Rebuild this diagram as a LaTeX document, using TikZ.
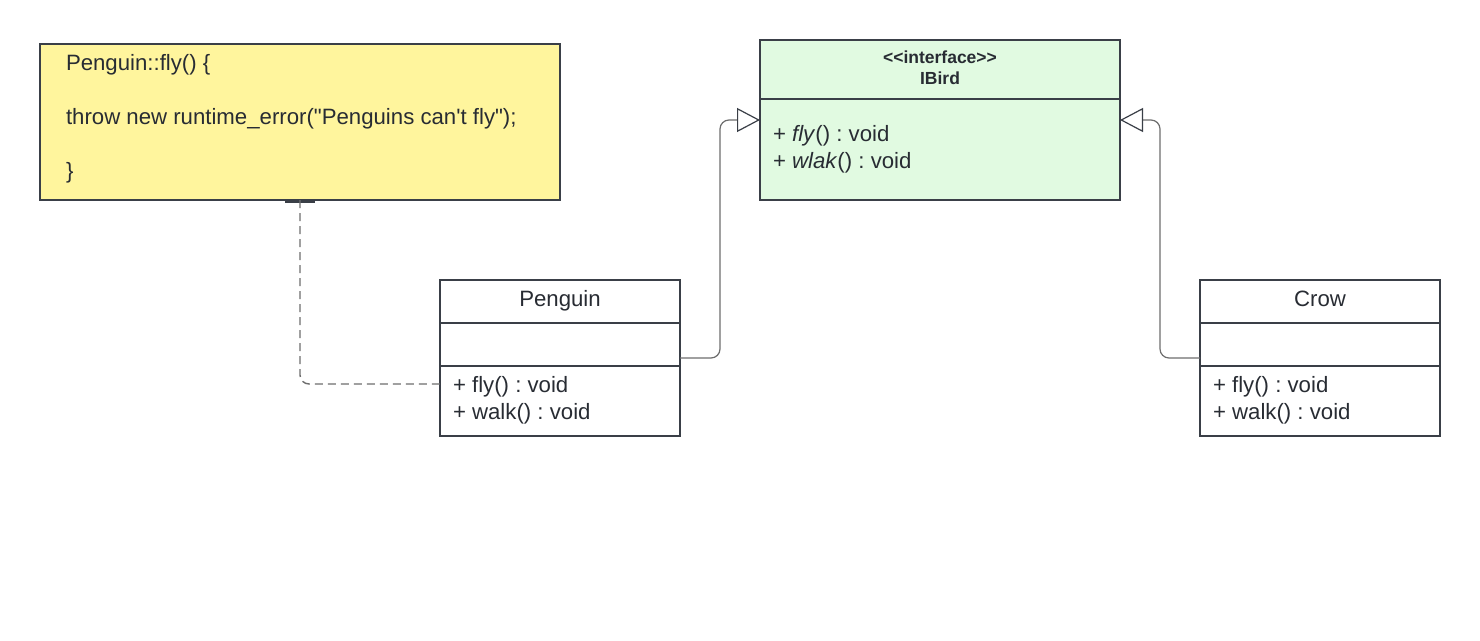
\documentclass[tikz,border=0pt]{standalone}
\usepackage{fontspec}
\setmainfont{Liberation Sans}[Ligatures=TeXOff]
\usetikzlibrary{arrows.meta}
\frenchspacing
\definecolor{bord}{HTML}{3A3F47}
\definecolor{txt}{HTML}{282C33}
\definecolor{notey}{HTML}{FFF59D}
\definecolor{ifg}{HTML}{E1FAE1}
\definecolor{conn}{HTML}{6E6E6E}
\tikzset{
  box/.style={draw=bord, line width=2pt, inner sep=0pt, outer sep=0pt, rectangle},
  divider/.style={draw=bord, line width=2pt},
  txtn/.style={inner sep=0pt, outer sep=0pt, text=txt, font=\fontsize{22.2}{26}\selectfont},
  hdr/.style={inner sep=0pt, outer sep=0pt, text=txt, font=\fontsize{17.5}{20}\selectfont\bfseries},
  gen/.style={draw=conn, line width=1.2pt, rounded corners=9pt,
    -{Triangle[open, length=23pt, width=24pt, line width=1.2pt, color=bord]}},
  notelink/.style={draw=conn, line width=1.4pt, dash pattern=on 8pt off 5pt, rounded corners=9pt}
}
\begin{document}
\begin{tikzpicture}[x=1pt,y=-1pt]
\useasboundingbox (0,0) rectangle (1480,640);
\fill[white] (0,0) rectangle (1480,640);

% note
\node[box, fill=notey, minimum width=520pt, minimum height=156pt] (note) at (300,122) {};
\node[txtn, anchor=base west] (n1) at (66,70) {Penguin::fly() \{};
\node[txtn, anchor=base west] (n2) at (66,124) {throw new runtime\_error("Penguins can't fly");};
\node[txtn, anchor=base west] (n3) at (66,178) {\}};
\draw[bord, line width=2.5pt] (285,201.5) -- (315,201.5);

% IBird
\node[box, fill=ifg, minimum width=360pt, minimum height=160pt] (ibird) at (940,120) {};
\draw[divider] (ibird.west |- 0,99) -- (ibird.east |- 0,99);
\node[hdr, anchor=base] (st) at (940,63) {<<interface>>};
\node[hdr, anchor=base] (ibn) at (940,84) {IBird};
\node[txtn, anchor=base west] (im1) at (773,141) {+ \textit{fly}() : void};
\node[txtn, anchor=base west] (im2) at (773,168) {+ \textit{wlak}() : void};

% Penguin
\node[box, fill=white, minimum width=240pt, minimum height=156pt] (penguin) at (560,358) {};
\draw[divider] (penguin.west |- 0,323) -- (penguin.east |- 0,323);
\draw[divider] (penguin.west |- 0,366) -- (penguin.east |- 0,366);
\node[txtn, anchor=base] (pn) at (560,306) {Penguin};
\node[txtn, anchor=base west] (pm1) at (453,392) {+ fly() : void};
\node[txtn, anchor=base west] (pm2) at (453,419) {+ walk() : void};

% Crow
\node[box, fill=white, minimum width=240pt, minimum height=156pt] (crow) at (1320,358) {};
\draw[divider] (crow.west |- 0,323) -- (crow.east |- 0,323);
\draw[divider] (crow.west |- 0,366) -- (crow.east |- 0,366);
\node[txtn, anchor=base] (cn) at (1320,306) {Crow};
\node[txtn, anchor=base west] (cm1) at (1213,392) {+ fly() : void};
\node[txtn, anchor=base west] (cm2) at (1213,419) {+ walk() : void};

% connectors
\draw[gen] (penguin.east) -- ++(40,0) |- (ibird.west);
\draw[gen] (crow.west) -- ++(-40,0) |- (ibird.east);
\coordinate (pj) at (440,384);
\draw[notelink] (note.south) |- (pj);
\end{tikzpicture}
\end{document}
